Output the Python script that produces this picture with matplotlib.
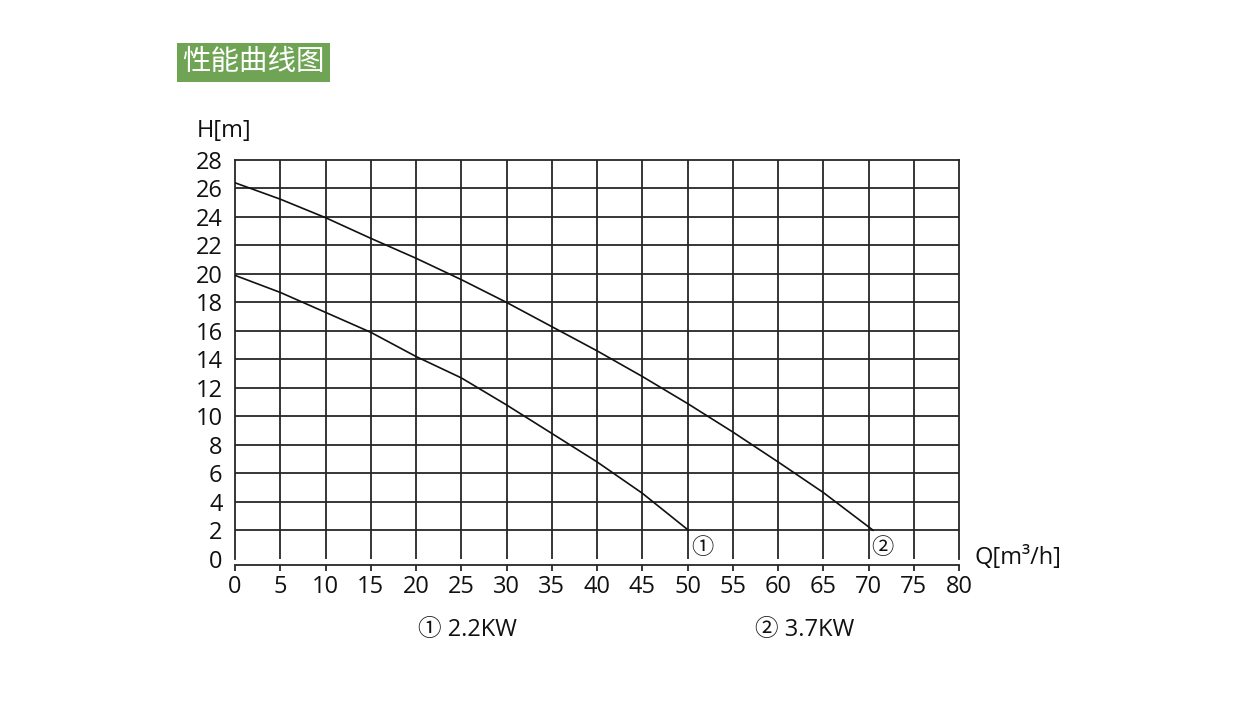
import matplotlib
matplotlib.use("Agg")
import matplotlib.pyplot as plt
from matplotlib.patches import Rectangle

plt.rcParams['font.family'] = ['Open Sans', 'Noto Sans CJK SC', 'DejaVu Sans']

# Data
q_22kw = [0, 5, 10, 15, 20, 25, 30, 35, 40, 45, 50.1]
h_22kw = [19.9, 18.7, 17.3, 15.9, 14.2, 12.7, 10.8, 8.8, 6.8, 4.6, 2.0]
q_37kw = [0, 5, 10, 15, 20, 25, 30, 35, 40, 45, 50, 55, 60, 65, 70.5]
h_37kw = [26.4, 25.25, 23.95, 22.5, 21.1, 19.6, 18.0, 16.3, 14.6, 12.8, 10.9, 8.9, 6.8, 4.65, 2.0]
x_ticks = list(range(0, 81, 5))
y_ticks = list(range(0, 29, 2))
title = "性能曲线图"
legend_labels = ["① 2.2KW", "② 3.7KW"]
end_marks = ["①", "②"]

W, H = 1236, 702
fig = plt.figure(figsize=(W / 100, H / 100), dpi=100)
fig.patch.set_facecolor('white')

ax = fig.add_axes([235 / W, 1 - 558.7 / H, (959 - 235) / W, (558.7 - 160) / H])
ax.set_xlim(0, 80)
ax.set_ylim(0, 28)

# grid
for x in x_ticks[1:-1]:
    ax.axvline(x, color='#262626', lw=1.3, zorder=1)
for y in y_ticks[1:-1]:
    ax.axhline(y, color='#262626', lw=1.3, zorder=1)

ax.plot(q_22kw, h_22kw, color='#111111', lw=1.2, zorder=3)
ax.plot(q_37kw, h_37kw, color='#111111', lw=1.2, zorder=3)

for s in ['top', 'right', 'left']:
    ax.spines[s].set_color('#262626')
    ax.spines[s].set_linewidth(1.3)
ax.spines['bottom'].set_position(('outward', 4.5))
ax.spines['bottom'].set_color('#262626')
ax.spines['bottom'].set_linewidth(1.3)

ax.set_xticks(x_ticks)
ax.set_yticks(y_ticks)
ax.tick_params(axis='x', direction='out', length=4, width=1.3, color='#262626',
               labelsize=17, pad=3)
ax.tick_params(axis='y', length=0, labelsize=17, pad=9)
for lab in ax.get_xticklabels() + ax.get_yticklabels():
    lab.set_color('#111111')

# end markers
ax.text(q_22kw[-1] + 1.5, 0.75, end_marks[0], ha='center', va='center', fontsize=16, color='#111111')
ax.text(q_37kw[-1] + 1.0, 0.75, end_marks[1], ha='center', va='center', fontsize=16, color='#111111')

# axis titles
fig.text(197 / W, 1 - 131 / H, "H[m]", ha='left', va='center', fontsize=17, color='#111111')
fig.text(974 / W, 1 - 558 / H, "Q[m³/h]", ha='left', va='center', fontsize=17, color='#111111')

# bottom labels
fig.text(468 / W, 1 - 630 / H, legend_labels[0], ha='center', va='center', fontsize=17, color='#111111')
fig.text(805 / W, 1 - 630 / H, legend_labels[1], ha='center', va='center', fontsize=17, color='#111111')

# title box
fig.patches.append(Rectangle((177 / W, 1 - 82 / H), (330 - 177) / W, (82 - 43) / H,
                             transform=fig.transFigure, facecolor='#6fa454', edgecolor='none'))
fig.text(253.5 / W, 1 - 62.5 / H, title, ha='center', va='center', fontsize=20.5, color='white',
         family=['Noto Sans CJK SC', 'DejaVu Sans'])

fig.savefig("out.png", dpi=100, facecolor='white')
